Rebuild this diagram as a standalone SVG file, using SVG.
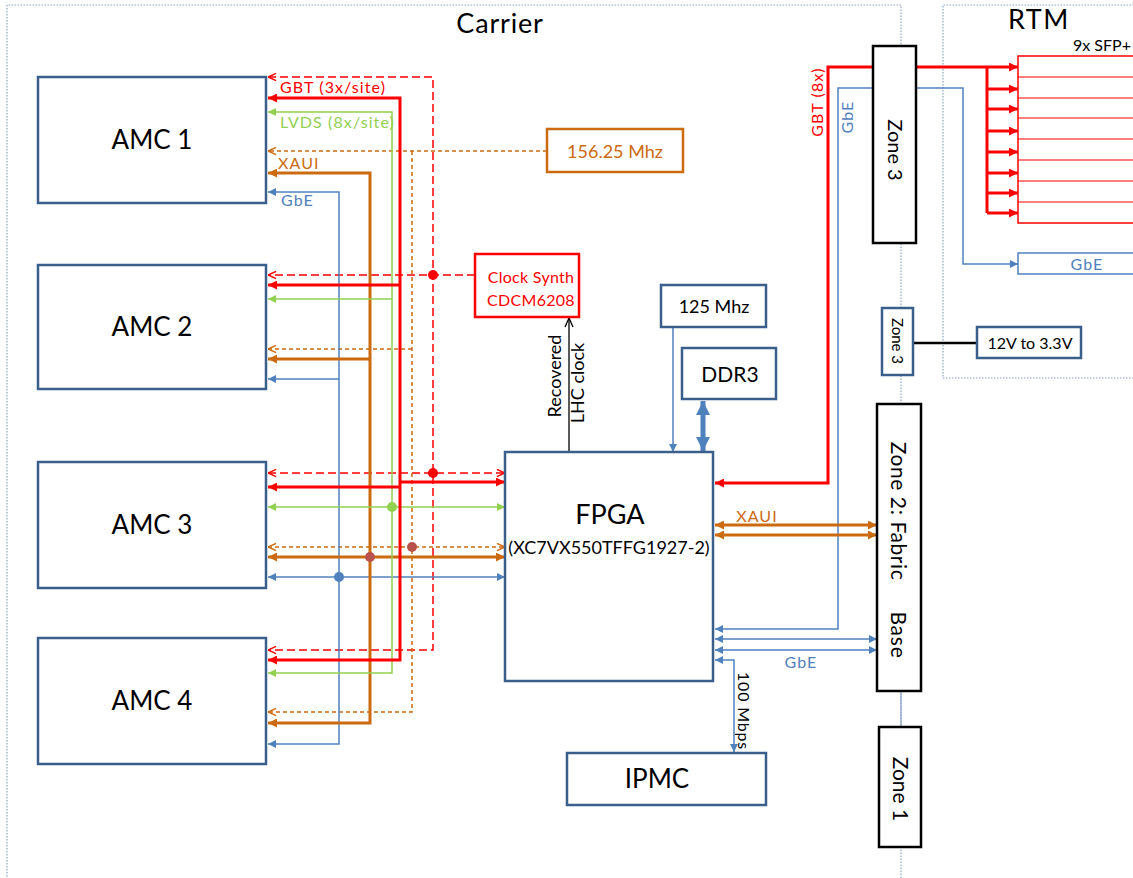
<svg xmlns="http://www.w3.org/2000/svg" width="1133" height="878" viewBox="0 0 1133 878">
<style>
text{font-family:Lato,"Liberation Sans",sans-serif;}
.frame{fill:none;stroke:#8aa2c4;stroke-width:1.2;stroke-dasharray:1.5,1.5;}
.box{fill:#fff;stroke:#3a5f8b;stroke-width:2.5;}
.zone{fill:#fff;stroke:#000;stroke-width:2.5;}
.c{fill:none;}
.rs{stroke:#ff0000;stroke-width:3;}
.rd{stroke:#ff0000;stroke-width:1.5;stroke-dasharray:8,4;}
.os{stroke:#cc6a10;stroke-width:3;}
.od{stroke:#cc6a10;stroke-width:1.5;stroke-dasharray:4,3;}
.g{stroke:#92d050;stroke-width:1.5;}
.b{stroke:#4f81bd;stroke-width:1.5;}
.k{stroke:#000;stroke-width:1.3;}
.lbl{font-size:16px;letter-spacing:1.1px;}
.t-r{fill:#ff0000;}
.t-g{fill:#92d050;}
.t-o{fill:#cc6a10;}
.t-b{fill:#4f81bd;}
.big{font-size:26px;fill:#000;text-anchor:middle;}
.mid{text-anchor:middle;}
</style>
<defs>
<marker id="aR" viewBox="0 0 10 10" refX="10" refY="5" markerWidth="9" markerHeight="9" markerUnits="userSpaceOnUse" orient="auto-start-reverse"><path d="M0,0L10,5L0,10z" fill="#ff0000"/></marker>
<marker id="aO" viewBox="0 0 10 10" refX="10" refY="5" markerWidth="9" markerHeight="9" markerUnits="userSpaceOnUse" orient="auto-start-reverse"><path d="M0,0L10,5L0,10z" fill="#cc6a10"/></marker>
<marker id="aG" viewBox="0 0 10 10" refX="10" refY="5" markerWidth="8" markerHeight="8" markerUnits="userSpaceOnUse" orient="auto-start-reverse"><path d="M0,0L10,5L0,10z" fill="#92d050"/></marker>
<marker id="aB" viewBox="0 0 10 10" refX="10" refY="5" markerWidth="8" markerHeight="8" markerUnits="userSpaceOnUse" orient="auto-start-reverse"><path d="M0,0L10,5L0,10z" fill="#4f81bd"/></marker>
<marker id="aBB" viewBox="0 0 10 10" refX="10" refY="5" markerWidth="14" markerHeight="14" markerUnits="userSpaceOnUse" orient="auto-start-reverse"><path d="M0,0L10,5L0,10z" fill="#4f81bd"/></marker>
<marker id="oR" viewBox="0 0 10 10" refX="10" refY="5" markerWidth="9" markerHeight="9" markerUnits="userSpaceOnUse" orient="auto-start-reverse"><path d="M1,1L10,5L1,9" fill="none" stroke="#ff0000" stroke-width="1.6"/></marker>
<marker id="oO" viewBox="0 0 10 10" refX="10" refY="5" markerWidth="9" markerHeight="9" markerUnits="userSpaceOnUse" orient="auto-start-reverse"><path d="M1,1L10,5L1,9" fill="none" stroke="#cc6a10" stroke-width="1.6"/></marker>
<marker id="oK" viewBox="0 0 10 10" refX="10" refY="5" markerWidth="10" markerHeight="10" markerUnits="userSpaceOnUse" orient="auto-start-reverse"><path d="M1,1L10,5L1,9" fill="none" stroke="#000" stroke-width="1.3"/></marker>
</defs>

<g id="frames">
<path class="frame" d="M901,878V5H7V878"/>
<path class="frame" d="M1140,5H943V378H1140"/>
<line x1="901" y1="692" x2="901" y2="727" stroke="#8aa2c4" stroke-width="1.2"/>
<text x="500" y="33" font-size="27" letter-spacing="0.8" class="mid" fill="#000">Carrier</text>
<text x="1039" y="29" font-size="27" letter-spacing="1.5" class="mid" fill="#000">RTM</text>
</g>

<g id="connectors">
<path class="c rd" d="M268,77H433V650H268" marker-start="url(#oR)" marker-end="url(#oR)"/>
<path class="c rd" d="M475,275H268" marker-end="url(#oR)"/>
<path class="c rd" d="M268,473H505" marker-start="url(#oR)" marker-end="url(#oR)"/>
<path class="c od" d="M547,151H268" marker-end="url(#oO)"/>
<path class="c od" d="M412,151V712H268" marker-end="url(#oO)"/>
<path class="c od" d="M412,349H268" marker-end="url(#oO)"/>
<path class="c od" d="M268,547H505" marker-start="url(#oO)" marker-end="url(#oO)"/>
<path class="c b" d="M268,192H339V744H268" marker-start="url(#aB)" marker-end="url(#aB)"/>
<path class="c b" d="M339,379H268" marker-end="url(#aB)"/>
<path class="c b" d="M268,577H505" marker-start="url(#aB)" marker-end="url(#aB)"/>
<path class="c os" d="M268,173H370V723H268" marker-start="url(#aO)" marker-end="url(#aO)"/>
<path class="c os" d="M370,359H268" marker-end="url(#aO)"/>
<path class="c os" d="M268,557H505" marker-start="url(#aO)" marker-end="url(#aO)"/>
<path class="c g" d="M268,112H392V673H268" marker-start="url(#aG)" marker-end="url(#aG)"/>
<path class="c g" d="M392,299H268" marker-end="url(#aG)"/>
<path class="c g" d="M268,507H505" marker-start="url(#aG)" marker-end="url(#aG)"/>
<path class="c rs" d="M268,98H400V660H268" marker-start="url(#aR)" marker-end="url(#aR)"/>
<path class="c rs" d="M400,285H268" marker-end="url(#aR)"/>
<path class="c rs" d="M400,487H268" marker-end="url(#aR)"/>
<path class="c rs" d="M400,482H505" marker-end="url(#aR)"/>
<circle cx="433" cy="275" r="5" fill="#ff0000"/>
<circle cx="433" cy="473" r="5" fill="#ff0000"/>
<circle cx="392" cy="507" r="5" fill="#92d050"/>
<circle cx="412" cy="547" r="5" fill="#b9524c"/>
<circle cx="370" cy="557" r="5" fill="#b9524c"/>
<circle cx="339" cy="577" r="5" fill="#4f81bd"/>
<path class="c k" d="M569,452V318" marker-end="url(#oK)"/>
<path class="c b" d="M673,327V452" marker-end="url(#aB)"/>
<path class="c" stroke="#4f81bd" stroke-width="5" d="M703,401V451" marker-start="url(#aBB)" marker-end="url(#aBB)"/>
<path class="c rs" d="M715,483H828V67H1018" marker-start="url(#aR)" marker-end="url(#aR)"/>
<path class="c rs" d="M987,67V213"/>
<path class="c rs" d="M987,89H1018" marker-end="url(#aR)"/>
<path class="c rs" d="M987,109H1018" marker-end="url(#aR)"/>
<path class="c rs" d="M987,131H1018" marker-end="url(#aR)"/>
<path class="c rs" d="M987,152H1018" marker-end="url(#aR)"/>
<path class="c rs" d="M987,173H1018" marker-end="url(#aR)"/>
<path class="c rs" d="M987,193H1018" marker-end="url(#aR)"/>
<path class="c rs" d="M987,213H1018" marker-end="url(#aR)"/>
<path class="c b" d="M715,629H838V88H963V264H1018" marker-start="url(#aB)" marker-end="url(#aB)"/>
<path class="c os" d="M715,525H877" marker-start="url(#aO)" marker-end="url(#aO)"/>
<path class="c os" d="M715,535H877" marker-start="url(#aO)" marker-end="url(#aO)"/>
<path class="c b" d="M715,639H877" marker-start="url(#aB)" marker-end="url(#aB)"/>
<path class="c b" d="M715,650H877" marker-start="url(#aB)" marker-end="url(#aB)"/>
<path class="c b" d="M715,660H734V752" marker-start="url(#aB)" marker-end="url(#aB)"/>
<path class="c" stroke="#000" stroke-width="2.5" d="M913,343H977"/>
<text x="280" y="93" class="lbl t-r">GBT (3x/site)</text>
<text x="280" y="128" class="lbl t-g">LVDS (8x/site)</text>
<text x="278" y="169" class="lbl t-o">XAUI</text>
<text x="281" y="206" class="lbl t-b">GbE</text>
<text x="757" y="522" class="lbl t-o mid">XAUI</text>
<text x="801" y="668" class="lbl t-b mid">GbE</text>
<text transform="translate(823,102) rotate(-90)" class="lbl t-r mid">GBT (8x)</text>
<text transform="translate(853,117) rotate(-90)" class="lbl t-b mid">GbE</text>
<text transform="translate(561,376) rotate(-90)" font-size="18" class="mid" fill="#000">Recovered</text>
<text transform="translate(584,383) rotate(-90)" font-size="18" class="mid" fill="#000">LHC clock</text>
<text transform="translate(738,711) rotate(90)" font-size="16" letter-spacing="0.8" class="mid" fill="#000">100 Mbps</text>
</g>

<g id="amc1"><rect class="box" x="38" y="77" width="228" height="126"/><text x="152" y="149" class="big">AMC 1</text></g>
<g id="amc2"><rect class="box" x="38" y="265" width="228" height="124"/><text x="152" y="336" class="big">AMC 2</text></g>
<g id="amc3"><rect class="box" x="38" y="462" width="228" height="126"/><text x="152" y="534" class="big">AMC 3</text></g>
<g id="amc4"><rect class="box" x="38" y="638" width="228" height="126"/><text x="152" y="710" class="big">AMC 4</text></g>

<g id="osc156"><rect x="547" y="129" width="136" height="43" fill="#fff" stroke="#cc6a10" stroke-width="2.5"/><text x="615" y="158" font-size="18" class="mid t-o">156.25 Mhz</text></g>
<g id="clocksynth"><rect x="475" y="254" width="104" height="63" fill="#fff" stroke="#ff0000" stroke-width="2.5"/><text x="531" y="283" font-size="16" letter-spacing="0.3" class="mid t-r">Clock Synth</text><text x="531" y="306" font-size="16" letter-spacing="0.3" class="mid t-r">CDCM6208</text></g>
<g id="osc125"><rect class="box" x="661" y="285" width="105" height="42"/><text x="714" y="313" font-size="18" class="mid" fill="#000">125 Mhz</text></g>
<g id="ddr3"><rect class="box" x="682" y="348" width="94" height="51"/><text x="730" y="382" font-size="21" class="mid" fill="#000">DDR3</text></g>
<g id="fpga"><rect class="box" x="505" y="452" width="208" height="229"/><text x="610" y="524" font-size="27" class="mid" fill="#000">FPGA</text><text x="609" y="554" font-size="18" class="mid" fill="#000">(XC7VX550TFFG1927-2)</text></g>
<g id="ipmc"><rect class="box" x="567" y="753" width="199" height="52"/><text x="657" y="788" class="big">IPMC</text></g>

<g id="zone3"><rect class="zone" x="873" y="46" width="43" height="197"/><text transform="translate(888,150) rotate(90)" font-size="20" class="mid" fill="#000">Zone 3</text></g>
<g id="zone3b"><rect class="box" x="882" y="308" width="31" height="67"/><text transform="translate(892,341) rotate(90)" font-size="15" class="mid" fill="#000">Zone 3</text></g>
<g id="zone2"><rect class="zone" x="877" y="404" width="44" height="287"/><text transform="translate(891,511) rotate(90)" font-size="21" letter-spacing="0.6" class="mid" fill="#000">Zone 2: Fabric</text><text transform="translate(891,635) rotate(90)" font-size="21" letter-spacing="0.8" class="mid" fill="#000">Base</text></g>
<g id="zone1"><rect class="zone" x="879" y="727" width="42" height="120"/><text transform="translate(893,789) rotate(90)" font-size="21" class="mid" fill="#000">Zone 1</text></g>
<g id="pwr"><rect class="box" x="977" y="327" width="104" height="31"/><text x="1030" y="349" font-size="16" class="mid" fill="#000">12V to 3.3V</text></g>

<g id="sfp">
<rect x="1018" y="56" width="125" height="167" fill="none" stroke="#ff0000" stroke-width="1.5"/>
<path d="M1018,77H1143M1018,98H1143M1018,118H1143M1018,139H1143M1018,160H1143M1018,181H1143M1018,202H1143" stroke="#ff0000" stroke-width="1.2" fill="none"/>
<text x="1073" y="51" font-size="16" fill="#000">9x SFP+</text>
</g>
<g id="rtmgbe"><rect x="1018" y="253" width="125" height="21" fill="#fff" stroke="#4f81bd" stroke-width="1.5"/><text x="1087" y="270" class="lbl t-b mid">GbE</text></g>
</svg>
